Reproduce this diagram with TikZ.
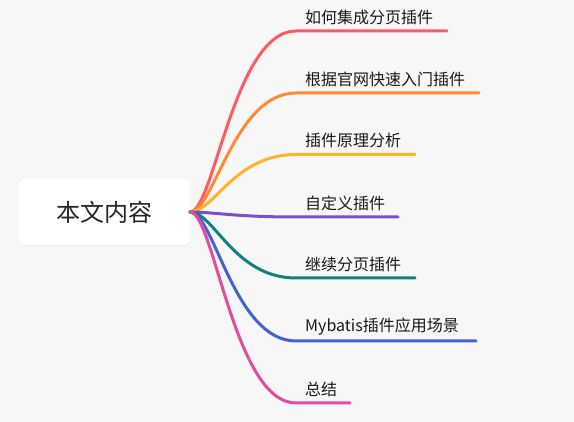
\documentclass[tikz,border=0pt]{standalone}
\usepackage{fontspec}
\setmainfont{Noto Sans CJK SC}
\usepackage{tikz}
\usetikzlibrary{positioning,shadows}
\definecolor{bgpaper}{HTML}{F7F7F7}
\definecolor{brred}{HTML}{FF5A62}
\definecolor{brorange}{HTML}{FF8A33}
\definecolor{bryellow}{HTML}{FDB32C}
\definecolor{brpurple}{HTML}{7B4FCC}
\definecolor{brteal}{HTML}{12807F}
\definecolor{brblue}{HTML}{4462D0}
\definecolor{brpink}{HTML}{E34C9E}

\begin{document}
\begin{tikzpicture}[x=1pt, y=-1pt,
  topic/.style={rectangle, rounded corners=6pt, fill=white, minimum width=171pt, minimum height=66pt,
    drop shadow={opacity=0.08, shadow xshift=0pt, shadow yshift=-1.5pt}, font=\fontsize{24}{28}\selectfont, text=black!85},
  item/.style={anchor=west, inner sep=0pt, font=\fontsize{16}{19}\selectfont, text=black!90},
  branch/.style={line width=3pt, line cap=round}]
  \fill[bgpaper] (0,0) rectangle (574,422);
  \useasboundingbox (0,0) rectangle (574,422);
  \node[topic] (root) at (104.5,212) {本文内容};
  % leaf texts
  \node[item] (t1) at (305,17) {如何集成分页插件};
  \node[item] (t2) at (305,79) {根据官网快速入门插件};
  \node[item] (t3) at (305,140.5) {插件原理分析};
  \node[item] (t4) at (305,203) {自定义插件};
  \node[item] (t5) at (305,264) {继续分页插件};
  \node[item] (t6) at (305,327) {Mybatis插件应用场景};
  \node[item] (t7) at (305,389) {总结};
  % underline ends
  \coordinate (s1) at (296,31);   \coordinate (e1) at (447,31);
  \coordinate (s2) at (296,93);   \coordinate (e2) at (479,93);
  \coordinate (s3) at (296,154.5);\coordinate (e3) at (415,154.5);
  \coordinate (s4) at (296,217);  \coordinate (e4) at (398,217);
  \coordinate (s5) at (296,278);  \coordinate (e5) at (415,278);
  \coordinate (s6) at (296,341);  \coordinate (e6) at (476,341);
  \coordinate (s7) at (296,403);  \coordinate (e7) at (350,403);
  \coordinate (o) at (190,212);
  \draw[branch, brred] (o) .. controls +(24,0) and +(-62,0) .. (s1) -- (e1);
  \draw[branch, brorange] (o) .. controls +(24,0) and +(-62,0) .. (s2) -- (e2);
  \draw[branch, bryellow] (o) .. controls +(24,0) and +(-62,0) .. (s3) -- (e3);
  \draw[branch, brpurple] (o) .. controls +(24,0) and +(-62,0) .. (s4) -- (e4);
  \draw[branch, brteal] (o) .. controls +(24,0) and +(-62,0) .. (s5) -- (e5);
  \draw[branch, brblue] (o) .. controls +(24,0) and +(-62,0) .. (s6) -- (e6);
  \draw[branch, brpink] (o) .. controls +(24,0) and +(-62,0) .. (s7) -- (e7);
\end{tikzpicture}
\end{document}
